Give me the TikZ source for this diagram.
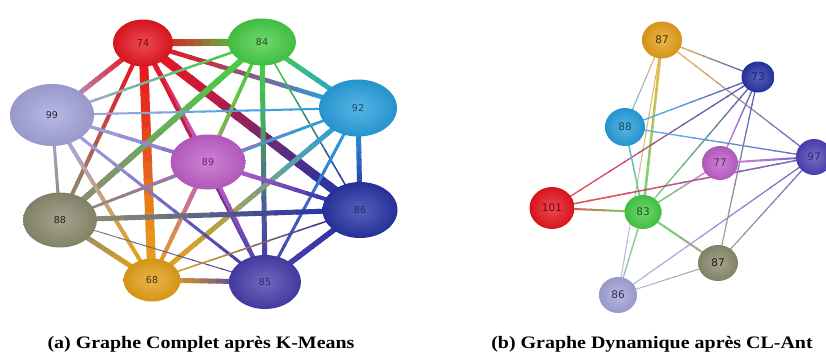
\documentclass[tikz,border=0pt]{standalone}
\usepackage{fontspec}
\setmainfont{Liberation Serif}
\newfontfamily\lblfont{DejaVu Sans}
\usetikzlibrary{calc,shapes.geometric}
\pgfdeclarelayer{bg}
\pgfdeclarelayer{edges}
\pgfsetlayers{bg,edges,main}

% vertex colours
\definecolor{cRed}{RGB}{232,22,32}
\definecolor{cGreen}{RGB}{70,205,70}
\definecolor{cSky}{RGB}{40,160,222}
\definecolor{cLav}{RGB}{165,165,220}
\definecolor{cOrch}{RGB}{192,95,202}
\definecolor{cOlive}{RGB}{140,140,112}
\definecolor{cNavy}{RGB}{40,52,165}
\definecolor{cOrange}{RGB}{230,160,25}
\definecolor{cIndigo}{RGB}{72,62,172}
\definecolor{cPurple}{RGB}{78,66,182}

\tikzset{
  vtx/.style n args={4}{ellipse, minimum width=#2pt, minimum height=#3pt,
    inner sep=0pt, inner color=#1!78!white, outer color=#1!92!black,
    text=#1!#4!black},
  lbig/.style={font=\lblfont\fontsize{9.5}{10}\selectfont},
  lsmall/.style={font=\lblfont\fontsize{10.5}{11}\selectfont},
  capt/.style={anchor=base, inner sep=0pt, transform shape,
    font=\bfseries\fontsize{17.5}{20}\selectfont},
}

% strength of the edge colours (100 = full, lower = paler)
\newcommand\edgetint{100}

% edge whose colour blends from the colour of one end to the other
\newcommand\gedge[5]{%
  \foreach \k in {0,...,13}{%
    \pgfmathsetmacro\ta{\k/14}%
    \pgfmathsetmacro\tb{min((\k+1.15)/14,1)}%
    \pgfmathsetmacro\tm{(\k+0.5)/14}%
    \pgfmathtruncatemacro\mixv{round(100*(1-(3*\tm*\tm-2*\tm*\tm*\tm)))}%
    \draw[line width=#5pt, color=#3!\mixv!#4!\edgetint!white]
      ($(#1.center)!\ta!(#2.center)$) -- ($(#1.center)!\tb!(#2.center)$);
  }%
}

\begin{document}
\begin{tikzpicture}[x=1pt,y=-1pt]
\useasboundingbox (0,0) rectangle (826,356);
\begin{pgfonlayer}{bg}
  \fill[white] (0,0) rectangle (826,356);
\end{pgfonlayer}

% ---------- complete graph ----------
\node[vtx={cRed}{60}{47}{45}, lbig]     (A) at (143,43)  {74};
\node[vtx={cGreen}{68}{47}{40}, lbig]   (B) at (262,42)  {84};
\node[vtx={cSky}{78}{57}{45}, lbig]     (C) at (358,108) {92};
\node[vtx={cLav}{84}{62}{25}, lbig]     (D) at (52,115)  {99};
\node[vtx={cOrch}{75}{55}{45}, lbig]    (E) at (208,162) {89};
\node[vtx={cOlive}{74}{55}{25}, lbig]   (F) at (60,220)  {88};
\node[vtx={cNavy}{75}{56}{70}, lbig]    (G) at (360,210) {86};
\node[vtx={cOrange}{57}{43}{30}, lbig]  (H) at (152,280) {68};
\node[vtx={cIndigo}{72}{54}{65}, lbig]  (I) at (265,282) {85};

\begin{pgfonlayer}{edges}
\gedge{A}{B}{cRed}{cGreen}{7}
\gedge{A}{C}{cRed}{cSky}{4.5}
\gedge{A}{D}{cRed}{cLav}{5}
\gedge{A}{E}{cRed}{cOrch}{5}
\gedge{A}{F}{cRed}{cOlive}{4}
\gedge{A}{G}{cRed}{cNavy}{9}
\gedge{A}{H}{cRed}{cOrange}{9}
\gedge{A}{I}{cRed}{cIndigo}{3}
\gedge{B}{C}{cGreen}{cSky}{5}
\gedge{B}{D}{cGreen}{cLav}{2.5}
\gedge{B}{E}{cGreen}{cOrch}{3}
\gedge{B}{F}{cGreen}{cOlive}{6}
\gedge{B}{G}{cGreen}{cNavy}{1.5}
\gedge{B}{H}{cGreen}{cOrange}{3}
\gedge{B}{I}{cGreen}{cIndigo}{5}
\gedge{C}{D}{cSky}{cLav}{2}
\gedge{C}{E}{cSky}{cOrch}{2}
\gedge{C}{F}{cSky}{cOlive}{2}
\gedge{C}{G}{cSky}{cNavy}{5}
\gedge{C}{H}{cSky}{cOrange}{5}
\gedge{C}{I}{cSky}{cIndigo}{3}
\gedge{D}{E}{cLav}{cOrch}{3}
\gedge{D}{F}{cLav}{cOlive}{3}
\gedge{D}{G}{cLav}{cNavy}{3}
\gedge{D}{H}{cLav}{cOrange}{4}
\gedge{D}{I}{cLav}{cIndigo}{3}
\gedge{E}{F}{cOrch}{cOlive}{2}
\gedge{E}{G}{cOrch}{cNavy}{4}
\gedge{E}{H}{cOrch}{cOrange}{4}
\gedge{E}{I}{cOrch}{cIndigo}{4}
\gedge{F}{G}{cOlive}{cNavy}{5}
\gedge{F}{H}{cOlive}{cOrange}{5}
\gedge{F}{I}{cOlive}{cIndigo}{1}
\gedge{G}{H}{cNavy}{cOrange}{1.5}
\gedge{G}{I}{cNavy}{cIndigo}{5.5}
\gedge{H}{I}{cOrange}{cIndigo}{5}
\end{pgfonlayer}

% ---------- dynamic graph ----------
\node[vtx={cOrange}{40}{37}{30}, lsmall]  (a) at (662,40)  {87};
\node[vtx={cNavy}{33}{31}{70}, lsmall]    (b) at (758,77)  {73};
\node[vtx={cSky}{40}{38}{45}, lsmall]     (c) at (625,127) {88};
\node[vtx={cOrch}{36}{34}{50}, lsmall]    (d) at (720,163) {77};
\node[vtx={cPurple}{36}{36}{65}, lsmall]  (e) at (814,157) {97};
\node[vtx={cRed}{45}{42}{45}, lsmall]     (f) at (552,208) {101};
\node[vtx={cGreen}{37}{34}{40}, lsmall]   (g) at (643,212) {83};
\node[vtx={cOlive}{40}{36}{20}, lsmall]   (h) at (718,263) {87};
\node[vtx={cLav}{38}{36}{30}, lsmall]     (i) at (618,295) {86};

\begin{pgfonlayer}{edges}
\renewcommand\edgetint{78}
\gedge{a}{b}{cOrange}{cNavy}{1.3}
\gedge{a}{e}{cOrange}{cPurple}{1.3}
\gedge{a}{c}{cOrange}{cSky}{1}
\gedge{a}{g}{cOrange}{cGreen}{2.5}
\gedge{a}{i}{cOrange}{cLav}{1}
\gedge{b}{c}{cNavy}{cSky}{1.3}
\gedge{b}{f}{cNavy}{cRed}{1.3}
\gedge{b}{g}{cNavy}{cGreen}{1.3}
\gedge{b}{d}{cNavy}{cOrch}{1.3}
\gedge{b}{h}{cNavy}{cOlive}{1.2}
\gedge{c}{e}{cSky}{cPurple}{1.3}
\gedge{c}{g}{cSky}{cGreen}{1.5}
\gedge{d}{e}{cOrch}{cPurple}{2}
\gedge{d}{g}{cOrch}{cGreen}{1.5}
\gedge{f}{e}{cRed}{cPurple}{1.5}
\gedge{f}{g}{cRed}{cGreen}{2}
\gedge{g}{h}{cGreen}{cOlive}{2}
\gedge{g}{i}{cGreen}{cLav}{1.4}
\gedge{e}{h}{cPurple}{cOlive}{1.2}
\gedge{e}{i}{cPurple}{cLav}{1.2}
\gedge{h}{i}{cOlive}{cLav}{1}
\end{pgfonlayer}

% ---------- captions ----------
\begin{scope}[shift={(201,348)}, xscale=1.14]
  \node[capt] (capA) at (0,0) {(a) Graphe Complet après K-Means};
\end{scope}
\begin{scope}[shift={(652,348)}, xscale=1.14]
  \node[capt] (capB) at (0,0) {(b) Graphe Dynamique après CL-Ant};
\end{scope}
\end{tikzpicture}
\end{document}
